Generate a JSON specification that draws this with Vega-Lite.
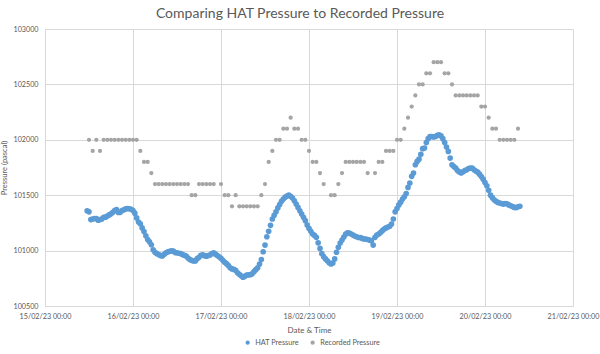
{
  "$schema": "https://vega.github.io/schema/vega-lite/v6.json",
  "width": 528,
  "height": 277,
  "autosize": {"type": "none"},
  "padding": {"left": 45, "top": 29, "right": 27, "bottom": 48},
  "background": "white",
  "config": {
    "font": "Lato",
    "view": {"stroke": null},
    "axis": {"labelColor": "#595959", "titleColor": "#595959", "labelFontSize": 7.2, "titleFontSize": 8, "titleFontWeight": "normal", "gridColor": "#D9D9D9", "domainColor": "#D9D9D9", "ticks": false, "tickSize": 0}
  },
  "title": {"text": "Comparing HAT Pressure to Recorded Pressure", "fontSize": 14, "fontWeight": "normal", "color": "#595959", "anchor": "middle", "dx": -9, "offset": 4},
  "datasets": {
    "hat": [
      {"t":"2023-02-15T11:30","p":101360},{"t":"2023-02-15T12:00","p":101350},{"t":"2023-02-15T12:30","p":101280},{"t":"2023-02-15T13:00","p":101285},{"t":"2023-02-15T13:30","p":101290},{"t":"2023-02-15T14:00","p":101290},{"t":"2023-02-15T14:30","p":101275},{"t":"2023-02-15T15:00","p":101280},{"t":"2023-02-15T15:30","p":101285},{"t":"2023-02-15T16:00","p":101300},{"t":"2023-02-15T16:30","p":101302},{"t":"2023-02-15T17:00","p":101312},{"t":"2023-02-15T17:30","p":101322},{"t":"2023-02-15T18:00","p":101332},{"t":"2023-02-15T18:30","p":101345},{"t":"2023-02-15T19:00","p":101362},{"t":"2023-02-15T19:30","p":101370},{"t":"2023-02-15T20:00","p":101344},{"t":"2023-02-15T20:30","p":101345},{"t":"2023-02-15T21:00","p":101362},{"t":"2023-02-15T21:30","p":101368},{"t":"2023-02-15T22:00","p":101376},{"t":"2023-02-15T22:30","p":101380},{"t":"2023-02-15T23:00","p":101378},{"t":"2023-02-15T23:30","p":101373},
      {"t":"2023-02-16T00:00","p":101362},{"t":"2023-02-16T00:30","p":101338},{"t":"2023-02-16T01:00","p":101295},{"t":"2023-02-16T01:30","p":101258},{"t":"2023-02-16T02:00","p":101242},{"t":"2023-02-16T02:30","p":101205},{"t":"2023-02-16T03:00","p":101172},{"t":"2023-02-16T03:30","p":101133},{"t":"2023-02-16T04:00","p":101100},{"t":"2023-02-16T04:30","p":101080},{"t":"2023-02-16T05:00","p":101053},{"t":"2023-02-16T05:30","p":101008},{"t":"2023-02-16T06:00","p":100985},{"t":"2023-02-16T06:30","p":100972},{"t":"2023-02-16T07:00","p":100964},{"t":"2023-02-16T07:30","p":100955},{"t":"2023-02-16T08:00","p":100952},{"t":"2023-02-16T08:30","p":100966},{"t":"2023-02-16T09:00","p":100980},{"t":"2023-02-16T09:30","p":100988},{"t":"2023-02-16T10:00","p":100994},{"t":"2023-02-16T10:30","p":100998},{"t":"2023-02-16T11:00","p":100996},{"t":"2023-02-16T11:30","p":100982},{"t":"2023-02-16T12:00","p":100979},{"t":"2023-02-16T12:30","p":100976},{"t":"2023-02-16T13:00","p":100972},{"t":"2023-02-16T13:30","p":100964},{"t":"2023-02-16T14:00","p":100957},{"t":"2023-02-16T14:30","p":100951},{"t":"2023-02-16T15:00","p":100933},{"t":"2023-02-16T15:30","p":100919},{"t":"2023-02-16T16:00","p":100912},{"t":"2023-02-16T16:30","p":100907},{"t":"2023-02-16T17:00","p":100907},{"t":"2023-02-16T17:30","p":100927},{"t":"2023-02-16T18:00","p":100940},{"t":"2023-02-16T18:30","p":100958},{"t":"2023-02-16T19:00","p":100962},{"t":"2023-02-16T19:30","p":100954},{"t":"2023-02-16T20:00","p":100950},{"t":"2023-02-16T20:30","p":100955},{"t":"2023-02-16T21:00","p":100960},{"t":"2023-02-16T21:30","p":100972},{"t":"2023-02-16T22:00","p":100980},{"t":"2023-02-16T22:30","p":100968},{"t":"2023-02-16T23:00","p":100956},{"t":"2023-02-16T23:30","p":100944},
      {"t":"2023-02-17T00:00","p":100930},{"t":"2023-02-17T00:30","p":100912},{"t":"2023-02-17T01:00","p":100895},{"t":"2023-02-17T01:30","p":100882},{"t":"2023-02-17T02:00","p":100865},{"t":"2023-02-17T02:30","p":100845},{"t":"2023-02-17T03:00","p":100835},{"t":"2023-02-17T03:30","p":100830},{"t":"2023-02-17T04:00","p":100822},{"t":"2023-02-17T04:30","p":100800},{"t":"2023-02-17T05:00","p":100786},{"t":"2023-02-17T05:30","p":100772},{"t":"2023-02-17T06:00","p":100760},{"t":"2023-02-17T06:30","p":100768},{"t":"2023-02-17T07:00","p":100780},{"t":"2023-02-17T07:30","p":100781},{"t":"2023-02-17T08:00","p":100783},{"t":"2023-02-17T08:30","p":100790},{"t":"2023-02-17T09:00","p":100810},{"t":"2023-02-17T09:30","p":100828},{"t":"2023-02-17T10:00","p":100845},{"t":"2023-02-17T10:30","p":100878},{"t":"2023-02-17T11:00","p":100920},{"t":"2023-02-17T11:30","p":100990},{"t":"2023-02-17T12:00","p":101050},{"t":"2023-02-17T12:30","p":101125},{"t":"2023-02-17T13:00","p":101175},{"t":"2023-02-17T13:30","p":101228},{"t":"2023-02-17T14:00","p":101285},{"t":"2023-02-17T14:30","p":101318},{"t":"2023-02-17T15:00","p":101350},{"t":"2023-02-17T15:30","p":101385},{"t":"2023-02-17T16:00","p":101415},{"t":"2023-02-17T16:30","p":101445},{"t":"2023-02-17T17:00","p":101465},{"t":"2023-02-17T17:30","p":101482},{"t":"2023-02-17T18:00","p":101492},{"t":"2023-02-17T18:30","p":101500},{"t":"2023-02-17T19:00","p":101490},{"t":"2023-02-17T19:30","p":101475},{"t":"2023-02-17T20:00","p":101450},{"t":"2023-02-17T20:30","p":101420},{"t":"2023-02-17T21:00","p":101390},{"t":"2023-02-17T21:30","p":101360},{"t":"2023-02-17T22:00","p":101330},{"t":"2023-02-17T22:30","p":101300},{"t":"2023-02-17T23:00","p":101270},{"t":"2023-02-17T23:30","p":101230},
      {"t":"2023-02-18T00:00","p":101200},{"t":"2023-02-18T00:30","p":101175},{"t":"2023-02-18T01:00","p":101150},{"t":"2023-02-18T01:30","p":101137},{"t":"2023-02-18T02:00","p":101120},{"t":"2023-02-18T02:30","p":101070},{"t":"2023-02-18T03:00","p":101020},{"t":"2023-02-18T03:30","p":100972},{"t":"2023-02-18T04:00","p":100945},{"t":"2023-02-18T04:30","p":100925},{"t":"2023-02-18T05:00","p":100908},{"t":"2023-02-18T05:30","p":100890},{"t":"2023-02-18T06:00","p":100880},{"t":"2023-02-18T06:30","p":100888},{"t":"2023-02-18T07:00","p":100925},{"t":"2023-02-18T07:30","p":100985},{"t":"2023-02-18T08:00","p":101030},{"t":"2023-02-18T08:30","p":101068},{"t":"2023-02-18T09:00","p":101095},{"t":"2023-02-18T09:30","p":101122},{"t":"2023-02-18T10:00","p":101148},{"t":"2023-02-18T10:30","p":101160},{"t":"2023-02-18T11:00","p":101158},{"t":"2023-02-18T11:30","p":101150},{"t":"2023-02-18T12:00","p":101140},{"t":"2023-02-18T12:30","p":101132},{"t":"2023-02-18T13:00","p":101125},{"t":"2023-02-18T13:30","p":101118},{"t":"2023-02-18T14:00","p":101118},{"t":"2023-02-18T14:30","p":101110},{"t":"2023-02-18T15:00","p":101105},{"t":"2023-02-18T15:30","p":101105},{"t":"2023-02-18T16:00","p":101100},{"t":"2023-02-18T16:30","p":101095},{"t":"2023-02-18T17:00","p":101090},{"t":"2023-02-18T17:30","p":101050},{"t":"2023-02-18T18:00","p":101120},{"t":"2023-02-18T18:30","p":101140},{"t":"2023-02-18T19:00","p":101150},{"t":"2023-02-18T19:30","p":101163},{"t":"2023-02-18T20:00","p":101180},{"t":"2023-02-18T20:30","p":101195},{"t":"2023-02-18T21:00","p":101205},{"t":"2023-02-18T21:30","p":101213},{"t":"2023-02-18T22:00","p":101220},{"t":"2023-02-18T22:30","p":101240},{"t":"2023-02-18T23:00","p":101285},{"t":"2023-02-18T23:30","p":101350},
      {"t":"2023-02-19T00:00","p":101380},{"t":"2023-02-19T00:30","p":101412},{"t":"2023-02-19T01:00","p":101437},{"t":"2023-02-19T01:30","p":101465},{"t":"2023-02-19T02:00","p":101485},{"t":"2023-02-19T02:30","p":101515},{"t":"2023-02-19T03:00","p":101570},{"t":"2023-02-19T03:30","p":101610},{"t":"2023-02-19T04:00","p":101670},{"t":"2023-02-19T04:30","p":101700},{"t":"2023-02-19T05:00","p":101775},{"t":"2023-02-19T05:30","p":101805},{"t":"2023-02-19T06:00","p":101825},{"t":"2023-02-19T06:30","p":101870},{"t":"2023-02-19T07:00","p":101920},{"t":"2023-02-19T07:30","p":101925},{"t":"2023-02-19T08:00","p":101975},{"t":"2023-02-19T08:30","p":102010},{"t":"2023-02-19T09:00","p":102028},{"t":"2023-02-19T09:30","p":102030},{"t":"2023-02-19T10:00","p":102025},{"t":"2023-02-19T10:30","p":102030},{"t":"2023-02-19T11:00","p":102040},{"t":"2023-02-19T11:30","p":102045},{"t":"2023-02-19T12:00","p":102035},{"t":"2023-02-19T12:30","p":102010},{"t":"2023-02-19T13:00","p":101975},{"t":"2023-02-19T13:30","p":101935},{"t":"2023-02-19T14:00","p":101895},{"t":"2023-02-19T14:30","p":101835},{"t":"2023-02-19T15:00","p":101775},{"t":"2023-02-19T15:30","p":101758},{"t":"2023-02-19T16:00","p":101745},{"t":"2023-02-19T16:30","p":101722},{"t":"2023-02-19T17:00","p":101710},{"t":"2023-02-19T17:30","p":101700},{"t":"2023-02-19T18:00","p":101712},{"t":"2023-02-19T18:30","p":101722},{"t":"2023-02-19T19:00","p":101730},{"t":"2023-02-19T19:30","p":101740},{"t":"2023-02-19T20:00","p":101745},{"t":"2023-02-19T20:30","p":101745},{"t":"2023-02-19T21:00","p":101730},{"t":"2023-02-19T21:30","p":101718},{"t":"2023-02-19T22:00","p":101708},{"t":"2023-02-19T22:30","p":101690},{"t":"2023-02-19T23:00","p":101668},{"t":"2023-02-19T23:30","p":101645},
      {"t":"2023-02-20T00:00","p":101615},{"t":"2023-02-20T00:30","p":101585},{"t":"2023-02-20T01:00","p":101545},{"t":"2023-02-20T01:30","p":101500},{"t":"2023-02-20T02:00","p":101478},{"t":"2023-02-20T02:30","p":101458},{"t":"2023-02-20T03:00","p":101445},{"t":"2023-02-20T03:30","p":101435},{"t":"2023-02-20T04:00","p":101430},{"t":"2023-02-20T04:30","p":101425},{"t":"2023-02-20T05:00","p":101420},{"t":"2023-02-20T05:30","p":101425},{"t":"2023-02-20T06:00","p":101422},{"t":"2023-02-20T06:30","p":101412},{"t":"2023-02-20T07:00","p":101405},{"t":"2023-02-20T07:30","p":101398},{"t":"2023-02-20T08:00","p":101390},{"t":"2023-02-20T08:30","p":101388},{"t":"2023-02-20T09:00","p":101395},{"t":"2023-02-20T09:30","p":101400}
    ],
    "rec": [
      {"t":"2023-02-15T12:00","p":102000},{"t":"2023-02-15T13:00","p":101900},{"t":"2023-02-15T14:00","p":102000},{"t":"2023-02-15T15:00","p":101900},{"t":"2023-02-15T16:00","p":102000},{"t":"2023-02-15T17:00","p":102000},{"t":"2023-02-15T18:00","p":102000},{"t":"2023-02-15T19:00","p":102000},{"t":"2023-02-15T20:00","p":102000},{"t":"2023-02-15T21:00","p":102000},{"t":"2023-02-15T22:00","p":102000},{"t":"2023-02-15T23:00","p":102000},
      {"t":"2023-02-16T00:00","p":102000},{"t":"2023-02-16T01:00","p":102000},{"t":"2023-02-16T02:00","p":101900},{"t":"2023-02-16T03:00","p":101800},{"t":"2023-02-16T04:00","p":101800},{"t":"2023-02-16T05:00","p":101700},{"t":"2023-02-16T06:00","p":101600},{"t":"2023-02-16T07:00","p":101600},{"t":"2023-02-16T08:00","p":101600},{"t":"2023-02-16T09:00","p":101600},{"t":"2023-02-16T10:00","p":101600},{"t":"2023-02-16T11:00","p":101600},{"t":"2023-02-16T12:00","p":101600},{"t":"2023-02-16T13:00","p":101600},{"t":"2023-02-16T14:00","p":101600},{"t":"2023-02-16T15:00","p":101600},{"t":"2023-02-16T16:00","p":101500},{"t":"2023-02-16T17:00","p":101500},{"t":"2023-02-16T18:00","p":101600},{"t":"2023-02-16T19:00","p":101600},{"t":"2023-02-16T20:00","p":101600},{"t":"2023-02-16T21:00","p":101600},{"t":"2023-02-16T22:00","p":101600},
      {"t":"2023-02-17T00:00","p":101600},{"t":"2023-02-17T01:00","p":101500},{"t":"2023-02-17T02:00","p":101500},{"t":"2023-02-17T03:00","p":101400},{"t":"2023-02-17T04:00","p":101500},{"t":"2023-02-17T05:00","p":101400},{"t":"2023-02-17T06:00","p":101400},{"t":"2023-02-17T07:00","p":101400},{"t":"2023-02-17T08:00","p":101400},{"t":"2023-02-17T09:00","p":101400},{"t":"2023-02-17T10:00","p":101400},{"t":"2023-02-17T11:00","p":101500},{"t":"2023-02-17T12:00","p":101600},{"t":"2023-02-17T13:00","p":101800},{"t":"2023-02-17T14:00","p":101900},{"t":"2023-02-17T15:00","p":102000},{"t":"2023-02-17T16:00","p":102000},{"t":"2023-02-17T17:00","p":102100},{"t":"2023-02-17T18:00","p":102100},{"t":"2023-02-17T19:00","p":102200},{"t":"2023-02-17T20:00","p":102100},{"t":"2023-02-17T21:00","p":102100},{"t":"2023-02-17T22:00","p":102000},{"t":"2023-02-17T23:00","p":102000},
      {"t":"2023-02-18T00:00","p":101900},{"t":"2023-02-18T01:00","p":101800},{"t":"2023-02-18T02:00","p":101800},{"t":"2023-02-18T03:00","p":101700},{"t":"2023-02-18T04:00","p":101600},{"t":"2023-02-18T06:00","p":101500},{"t":"2023-02-18T07:00","p":101500},{"t":"2023-02-18T08:00","p":101600},{"t":"2023-02-18T09:00","p":101700},{"t":"2023-02-18T10:00","p":101800},{"t":"2023-02-18T11:00","p":101800},{"t":"2023-02-18T12:00","p":101800},{"t":"2023-02-18T13:00","p":101800},{"t":"2023-02-18T14:00","p":101800},{"t":"2023-02-18T15:00","p":101800},{"t":"2023-02-18T16:00","p":101700},{"t":"2023-02-18T18:00","p":101700},{"t":"2023-02-18T19:00","p":101800},{"t":"2023-02-18T20:00","p":101800},{"t":"2023-02-18T21:00","p":101900},{"t":"2023-02-18T22:00","p":101900},{"t":"2023-02-18T23:00","p":101900},
      {"t":"2023-02-19T00:00","p":102000},{"t":"2023-02-19T01:00","p":102000},{"t":"2023-02-19T02:00","p":102100},{"t":"2023-02-19T03:00","p":102200},{"t":"2023-02-19T04:00","p":102300},{"t":"2023-02-19T05:00","p":102400},{"t":"2023-02-19T06:00","p":102500},{"t":"2023-02-19T07:00","p":102500},{"t":"2023-02-19T08:00","p":102600},{"t":"2023-02-19T09:00","p":102600},{"t":"2023-02-19T10:00","p":102700},{"t":"2023-02-19T11:00","p":102700},{"t":"2023-02-19T12:00","p":102700},{"t":"2023-02-19T13:00","p":102600},{"t":"2023-02-19T14:00","p":102600},{"t":"2023-02-19T15:00","p":102500},{"t":"2023-02-19T16:00","p":102400},{"t":"2023-02-19T17:00","p":102400},{"t":"2023-02-19T18:00","p":102400},{"t":"2023-02-19T19:00","p":102400},{"t":"2023-02-19T20:00","p":102400},{"t":"2023-02-19T21:00","p":102400},{"t":"2023-02-19T22:00","p":102400},{"t":"2023-02-19T23:00","p":102300},
      {"t":"2023-02-20T00:00","p":102300},{"t":"2023-02-20T01:00","p":102200},{"t":"2023-02-20T02:00","p":102100},{"t":"2023-02-20T03:00","p":102100},{"t":"2023-02-20T04:00","p":102000},{"t":"2023-02-20T05:00","p":102000},{"t":"2023-02-20T06:00","p":102000},{"t":"2023-02-20T07:00","p":102000},{"t":"2023-02-20T08:00","p":102000},{"t":"2023-02-20T09:00","p":102100}
    ]
  },
  "encoding": {
    "x": {
      "field": "t", "type": "temporal", "title": "Date & Time",
      "scale": {"domain": [{"year": 2023, "month": 2, "date": 15}, {"year": 2023, "month": 2, "date": 21}], "nice": false},
      "axis": {"format": "%d/%m/%y %H:%M", "tickCount": {"interval": "day", "step": 1}, "labelFlush": false, "labelOverlap": false, "grid": true, "domain": true, "labelPadding": 6, "titlePadding": 7}
    },
    "y": {
      "field": "p", "type": "quantitative", "title": "Pressure (pascal)",
      "scale": {"domain": [100500, 103000], "nice": false, "zero": false},
      "axis": {"values": [100500, 101000, 101500, 102000, 102500, 103000], "format": "d", "domain": false, "grid": true, "labelPadding": 7, "titleX": -37, "titleFontSize": 7.5}
    }
  },
  "layer": [
    {
      "data": {"name": "rec"},
      "mark": {"type": "circle", "size": 18, "opacity": 1},
      "encoding": {"color": {"datum": "Recorded Pressure", "type": "nominal"}}
    },
    {
      "data": {"name": "hat"},
      "mark": {"type": "circle", "size": 32, "opacity": 1},
      "encoding": {
        "color": {
          "datum": "HAT Pressure", "type": "nominal",
          "scale": {"domain": ["HAT Pressure", "Recorded Pressure"], "range": ["#5B9BD5", "#A5A5A5"]},
          "legend": {"title": null, "orient": "none", "legendX": 199, "legendY": 310, "direction": "horizontal", "symbolType": "circle", "symbolSize": 18, "labelFontSize": 7.3, "labelColor": "#595959", "columnPadding": 10}
        }
      }
    }
  ]
}
